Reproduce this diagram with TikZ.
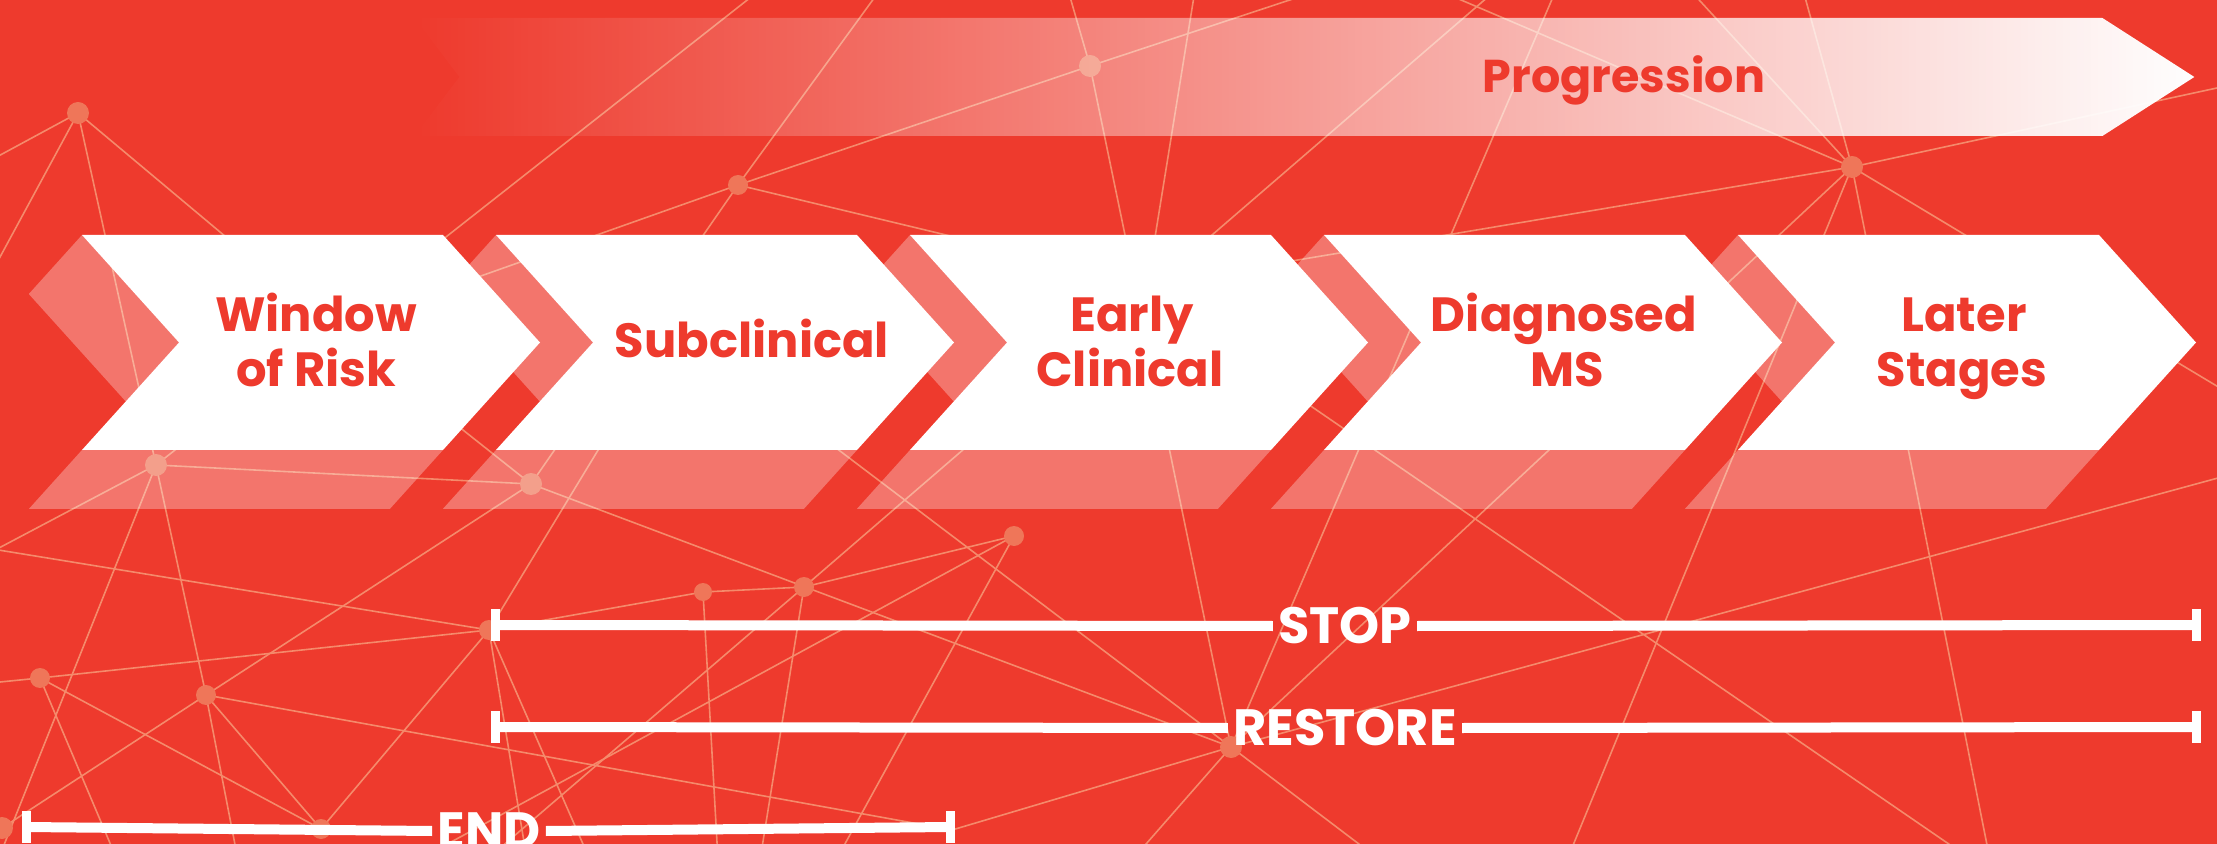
\documentclass[tikz,border=0pt]{standalone}
\usepackage{fontspec}
\setmainfont{Poppins}
\usetikzlibrary{fadings,calc}
\definecolor{bgred}{HTML}{EE3A2D}
\definecolor{netline}{HTML}{F58A6B}
\definecolor{netdot}{HTML}{EF7659}
\tikzfading[name=growfade, left color=transparent!100, right color=transparent!0]

\begin{document}
\begin{tikzpicture}[x=0.5pt,y=-0.5pt,
  net/.style={draw=netline, line width=0.8pt},
  dot/.style={fill=netdot},
  face/.style={fill=white, opacity=0.3},
  front/.style={fill=white},
  stage/.style={text=bgred, font=\bfseries\fontsize{24}{29}\selectfont, inner sep=0pt, anchor=base},
  bartext/.style={text=white, font=\bfseries\fontsize{25.5}{30}\selectfont, inner xsep=2.5pt, inner ysep=0pt},
  barline/.style={draw=white, line width=5pt},
  barcap/.style={draw=white, line width=4.5pt}]

% background
\fill[bgred] (0,0) rectangle (2217,844);
\useasboundingbox (0,0) rectangle (2217,844);

% ---- network texture ----
\coordinate (nA) at (78,113);
\coordinate (nB) at (156,465);
\coordinate (nC) at (738,185);
\coordinate (nD) at (1090,66);
\coordinate (nE) at (1852,167);
\coordinate (nF) at (531,484);
\coordinate (nG) at (489,630);
\coordinate (nH) at (40,678);
\coordinate (nI) at (206,695);
\coordinate (nJ) at (703,592);
\coordinate (nK) at (2,828);
\coordinate (nL) at (321,829);
\coordinate (nM) at (1014,536);
\coordinate (nN) at (804,587);
\coordinate (nO) at (1231,747);
\coordinate (nP) at (952,830);
% loose ends
\coordinate (eA1) at (-20,166);
\coordinate (eA2) at (-20,294);
\coordinate (eA3) at (300,299);
\coordinate (eB1) at (760,-10);
\coordinate (eB2) at (-20,558);
\coordinate (eB3) at (-2,860);
\coordinate (eC1) at (880,-10);
\coordinate (eC2) at (1300,320);
\coordinate (eC3) at (300,340);
\coordinate (eD1) at (1068,-10);
\coordinate (eD2) at (1320,-10);
\coordinate (eT1) at (1195,-10);
\coordinate (eT2) at (1140,330);
\coordinate (eE1) at (1440,-9);
\coordinate (eE2) at (1803,-10);
\coordinate (eE3) at (1690,-10);
\coordinate (eE4) at (1567,860);
\coordinate (eE5) at (1990,860);
\coordinate (eE6) at (2250,406);
\coordinate (eE7) at (2240,83);
\coordinate (eE8) at (1250,268);
\coordinate (eN1) at (1496,-10);
\coordinate (eN2) at (492,855);
\coordinate (eN3) at (760,860);
\coordinate (eO1) at (1556,-10);
\coordinate (eO2) at (2240,472);
\coordinate (eO3) at (1132,860);
\coordinate (eO4) at (1380,860);
\coordinate (eO5) at (700,345);
\coordinate (eR1) at (1200,330);
\coordinate (eR2) at (1975,862);
\coordinate (eF1) at (400,380);
\coordinate (eG1) at (-20,547);
\coordinate (eG2) at (680,315);
\coordinate (eG3) at (527,860);
\coordinate (eG4) at (590,860);
\coordinate (eH1) at (-20,684);
\coordinate (eH2) at (118,862);
\coordinate (eI1) at (238,860);
\coordinate (eJ1) at (718,860);
\coordinate (eM1) at (835,862);
\coordinate (eM2) at (440,848);

\begin{scope}
\clip (0,0) rectangle (2217,844);
\foreach \a/\b in {nA/eA1, nA/eA2, nA/nB, nA/eA3,
  nB/eB1, nB/eB2, nB/nF, nB/nI, nB/eB3,
  nC/nD, nC/eC1, nC/eC2, nC/eC3, nC/nF,
  nD/eD1, nD/eD2, nD/nO, eT1/eT2,
  nE/eE1, nE/eE2, nE/eE3, nE/nO, nE/eE4, nE/eE5, nE/eE6, nE/eE7, nE/eE8,
  eN1/nN, nN/eN2, nN/eN3,
  nO/eO1, nO/eO2, nF/nO, nO/eO3, nO/eO4, nO/nP, nO/eO5, eR1/eR2,
  nF/eF1, nF/nI,
  nG/eG1, nH/eH1, nH/nG, nG/nJ, nG/nL, nG/eG2, nG/eG3, nG/eG4,
  nH/nL, nH/eH2, nI/nK, nI/nP, nI/eI1, nI/nL,
  nJ/nN, nJ/eJ1, nM/nN, nM/eM1, nM/eM2}
  \draw[net] (\a) -- (\b);
\foreach \p/\r in {nA/5.5, nB/5.5, nC/5, nD/5.5, nE/5.5, nF/5.5, nG/5, nH/5,
  nI/5, nJ/4.5, nK/5.5, nL/5, nM/5, nN/5, nO/5.5}
  \fill[dot] (\p) circle[radius=\r pt];
\end{scope}

% ---- progression band ----
\fill[white, path fading=growfade]
  (415,18) -- (2104,18) -- (2196,77) -- (2104,136) -- (415,136) -- (460,77) -- cycle;
\node[stage, font=\bfseries\fontsize{23}{27}\selectfont] (prog) at (1624,93) {Progression};

% ---- stage chevrons: shaded side faces first, then white fronts ----
\foreach \L in {82,496,910,1324,1738} {
  \fill[face] (\L,235) -- (\L+97,342.5) -- (\L+43.8,401.5) -- (\L-53.2,294) -- cycle;
  \fill[face] (\L,450) -- (\L+361,450) -- (\L+307.8,509) -- (\L-53.2,509) -- cycle;
}
\foreach \L in {82,496,910,1324,1738} {
  \fill[front] (\L,235) -- (\L+361,235) -- (\L+458,342.5) -- (\L+361,450)
    -- (\L,450) -- (\L+97,342.5) -- cycle;
}

\node[stage] (t1a) at (316,332) {Window};
\node[stage] (t1b) at (316,387) {of Risk};
\node[stage] (t2)  at (752,358) {Subclinical};
\node[stage] (t3a) at (1132,332) {Early};
\node[stage] (t3b) at (1130,387) {Clinical};
\node[stage] (t4a) at (1564,332) {Diagnosed};
\node[stage] (t4b) at (1567,387) {MS};
\node[stage] (t5a) at (1964,332) {Later};
\node[stage] (t5b) at (1962,387) {Stages};

% ---- range bars ----
\coordinate (sL) at (495,625);
\coordinate (sR) at (2196,625);
\coordinate (rL) at (495,727);
\coordinate (rR) at (2196,727);
\coordinate (eL) at (26,827);
\coordinate (eR) at (950,827);

\node[bartext] (stop) at (1345,626) {STOP};
\node[bartext] (restore) at (1345,728) {RESTORE};
\node[bartext] (endt) at (489,831) {END};

\draw[barline] (sL) -- (stop.west);
\draw[barline] (stop.east) -- (sR);
\draw[barline] (rL) -- (restore.west);
\draw[barline] (restore.east) -- (rR);
\draw[barline] (eL) -- (endt.west);
\draw[barline] (endt.east) -- (eR);

\foreach \c in {sL,sR,rL,rR,eL,eR}
  \draw[barcap] ($(\c)+(0,-16)$) -- ($(\c)+(0,16)$);

\end{tikzpicture}
\end{document}
